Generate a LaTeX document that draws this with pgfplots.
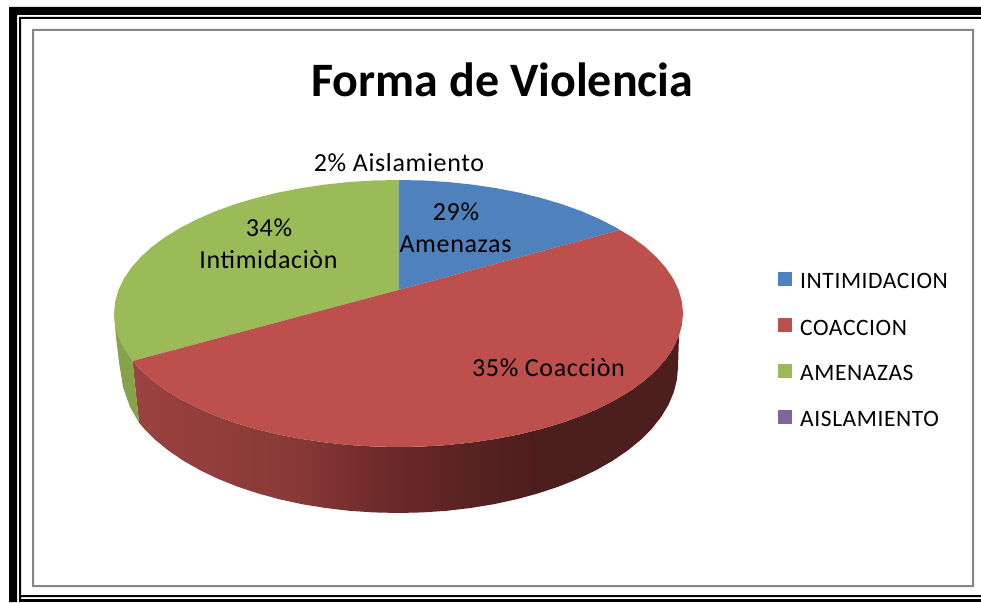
\documentclass[border=0pt]{standalone}
\usepackage{fontspec}
\setmainfont{Carlito}
\newfontfamily\spaced[LetterSpace=2.5]{Carlito}
\usepackage{pgfplots}
\pgfplotsset{compat=1.18}
\definecolor{pieBlue}{HTML}{4F81BD}
\definecolor{pieRed}{HTML}{BD4F4C}
\definecolor{pieGreen}{HTML}{9BBB59}
\definecolor{piePurple}{HTML}{8064A2}
\definecolor{sideGreen}{HTML}{86A24A}
\definecolor{frameGrey}{HTML}{868686}
\definecolor{sr0}{HTML}{9A4240}
\definecolor{sr1}{HTML}{883937}
\definecolor{sr2}{HTML}{6E2A2A}
\definecolor{sr3}{HTML}{5A2322}
\definecolor{sr4}{HTML}{4C1E1D}
% side of the pie goes from red-brown to very dark, stops 25-75bp span the path
\pgfdeclarehorizontalshading{sideRed}{100bp}{
  color(0bp)=(sr0); color(25bp)=(sr0); color(40bp)=(sr1);
  color(48bp)=(sr2); color(55bp)=(sr3); color(62bp)=(sr4); color(100bp)=(sr4)}
\begin{document}
\begin{tikzpicture}
\begin{axis}[
    width=981pt, height=602pt, scale only axis,
    xmin=0, xmax=981, ymin=0, ymax=602,
    y dir=reverse,
    hide axis,
    clip=true,
]
% page background, keeps the bounding box at the full size
\addplot[fill=white, draw=none] coordinates {(0,0) (981,0) (981,602) (0,602)};
% frame
\addplot[fill=black, draw=none] coordinates {(9,7) (981,7) (981,15) (17,15) (17,602) (9,602)};
\addplot[fill=black, draw=none] coordinates {(19,17) (981,17) (981,19) (21,19) (21,595) (981,595) (981,597) (21,597) (21,602) (19,602)};
\addplot[fill=black, draw=none] coordinates {(19,599) (981,599) (981,602) (19,602)};
\addplot[fill=frameGrey, draw=none] coordinates {(32,29) (974,29) (974,587) (32,587) (32,31) (34,31) (34,585) (972,585) (972,31) (32,31)};
% pie side
\addplot[shade, shading=sideRed, draw=none] coordinates {
    (679,335) (673.3,348.1) (665.8,359.2) (656.3,369.9) (644.9,380.3) (631.6,390.1)
    (616.4,399.3) (599.7,407.9) (581.4,415.8) (561.7,422.9) (540.8,429.1) (518.7,434.5)
    (495.8,438.9) (472.1,442.4) (447.9,445.0) (423.3,446.5) (398.5,447) (373.7,446.5)
    (349.1,445.0) (324.9,442.4) (301.2,438.9) (278.3,434.5) (256.2,429.1) (235.3,422.9)
    (215.6,415.8) (197.3,407.9) (180.6,399.3) (165.4,390.1) (152.1,380.3) (140.7,369.9)
    (132.5,361) (139,422.6) (144.2,428.7) (155.5,440) (168.6,450.7) (183.5,460.8)
    (200,470.2) (218,478.8) (237.4,486.6) (258,493.4) (279.7,499.3) (302.2,504.2)
    (325.5,508) (349.4,510.8) (373.6,512.4) (398,513) (422.4,512.4) (446.6,510.8)
    (470.5,508) (493.8,504.2) (516.3,499.3) (538,493.4) (558.6,486.6) (578,478.8)
    (596,470.2) (612.5,460.8) (627.4,450.7) (640.5,440) (651.8,428.7) (661.1,416.9)
    (668.5,404.8) (673.7,392.4) (676.9,379.7) (678,367)
};
\addplot[fill=sideGreen, draw=none] coordinates {
    (114,313.5) (115,325) (116,337) (119,362) (123,387) (130,407) (139,422.6) (132.5,361)
};
% pie top, slices
\addplot[fill=pieGreen, draw=none] coordinates {
    (398.5,290) (132.5,361) (123.7,348.1) (118.3,336.7) (115.1,325.1) (114,313.5) (115.1,301.9)
    (118.3,290.3) (123.7,278.9) (131.2,267.8) (140.7,257.1) (152.1,246.7) (165.4,236.9)
    (180.6,227.7) (197.3,219.1) (215.6,211.2) (235.3,204.1) (256.2,197.9) (278.3,192.5)
    (301.2,188.1) (324.9,184.6) (349.1,182.0) (373.7,180.5) (398.5,180)
};
\addplot[fill=pieBlue, draw=none] coordinates {
    (398.5,290) (398.5,180) (423.3,180.5) (447.9,182.0) (472.1,184.6) (495.8,188.1)
    (518.7,192.5) (540.8,197.9) (561.7,204.1) (581.4,211.2) (599.7,219.1) (616.4,227.7) (620,230)
};
\addplot[fill=pieRed, draw=none] coordinates {
    (398.5,290) (620,230) (631.6,236.9) (644.9,246.7) (656.3,257.1) (665.8,267.8)
    (673.3,278.9) (678.7,290.3) (681.9,301.9) (683,313.5) (681.9,325.1) (678.7,336.7)
    (673.3,348.1) (665.8,359.2) (656.3,369.9) (644.9,380.3) (631.6,390.1) (616.4,399.3)
    (599.7,407.9) (581.4,415.8) (561.7,422.9) (540.8,429.1) (518.7,434.5) (495.8,438.9)
    (472.1,442.4) (447.9,445.0) (423.3,446.5) (398.5,447) (373.7,446.5) (349.1,445.0)
    (324.9,442.4) (301.2,438.9) (278.3,434.5) (256.2,429.1) (235.3,422.9) (215.6,415.8)
    (197.3,407.9) (180.6,399.3) (165.4,390.1) (152.1,380.3) (140.7,369.9) (132.5,361)
};
% legend keys
\addplot[fill=pieBlue, draw=none] coordinates {(778,272) (792,272) (792,286) (778,286)};
\addplot[fill=pieRed, draw=none] coordinates {(778,318) (792,318) (792,332) (778,332)};
\addplot[fill=pieGreen, draw=none] coordinates {(778,364) (792,364) (792,378) (778,378)};
\addplot[fill=piePurple, draw=none] coordinates {(778,410) (792,410) (792,424) (778,424)};
% text
\node[anchor=base, inner sep=0pt, font=\fontsize{48}{48}\selectfont\bfseries] at (axis cs:502.5,96) {Forma de Violencia};
\node[anchor=base, inner sep=0pt, font=\spaced\fontsize{26}{26}\selectfont] at (axis cs:399,171) {2\% Aislamiento};
\node[anchor=base, inner sep=0pt, font=\spaced\fontsize{26}{26}\selectfont] at (axis cs:269,236) {34\%};
\node[anchor=base, inner sep=0pt, font=\spaced\fontsize{26}{26}\selectfont] at (axis cs:268.5,268) {Intimidaciòn};
\node[anchor=base, inner sep=0pt, font=\spaced\fontsize{26}{26}\selectfont] at (axis cs:456,220) {29\%};
\node[anchor=base, inner sep=0pt, font=\spaced\fontsize{26}{26}\selectfont] at (axis cs:455.5,252) {Amenazas};
\node[anchor=base, inner sep=0pt, font=\spaced\fontsize{26}{26}\selectfont] at (axis cs:548.5,376) {35\% Coacciòn};
\node[anchor=base west, inner sep=0pt, font=\spaced\fontsize{23.5}{23.5}\selectfont] at (axis cs:800,288.5) {INTIMIDACION};
\node[anchor=base west, inner sep=0pt, font=\spaced\fontsize{23.5}{23.5}\selectfont] at (axis cs:800,335) {COACCION};
\node[anchor=base west, inner sep=0pt, font=\spaced\fontsize{23.5}{23.5}\selectfont] at (axis cs:800,380.5) {AMENAZAS};
\node[anchor=base west, inner sep=0pt, font=\spaced\fontsize{23.5}{23.5}\selectfont] at (axis cs:800,426) {AISLAMIENTO};
\end{axis}
\end{tikzpicture}
\end{document}
